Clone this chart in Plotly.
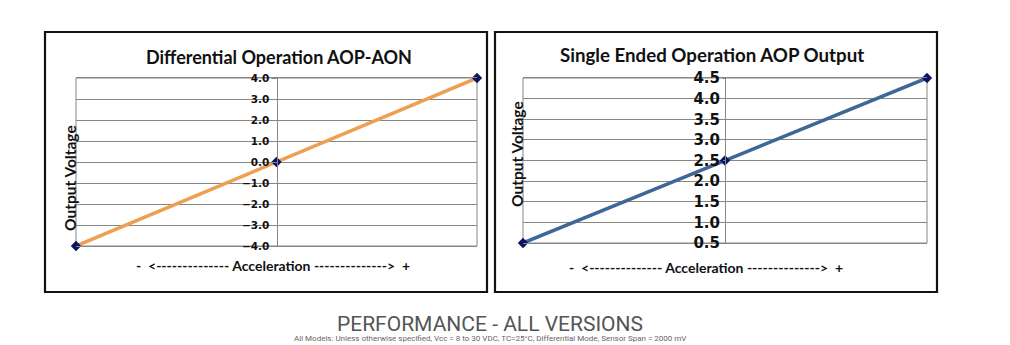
import plotly.graph_objects as go

W, H = 1010, 345

# Data
accel = [-1, 0, 1]
diff_out = [-4.0, 0.0, 4.0]
single_out = [0.5, 2.5, 4.5]
diff_ticks = [-4.0, -3.0, -2.0, -1.0, 0.0, 1.0, 2.0, 3.0, 4.0]
single_ticks = [0.5, 1.0, 1.5, 2.0, 2.5, 3.0, 3.5, 4.0, 4.5]

left_title = "Differential Operation AOP-AON"
right_title = "Single Ended Operation AOP Output"
y_title = "Output Voltage"
x_title = "-  <-------------- Acceleration -------------->  +"

FONT = "Lato, 'Open Sans', sans-serif"
TICKFONT = "'DejaVu Sans', sans-serif"
GRID = "#868686"


def px(x):
    return x / W


def py(y):
    return 1 - y / H


fig = go.Figure()

fig.add_trace(go.Scatter(
    x=accel, y=diff_out, mode="lines+markers", xaxis="x", yaxis="y",
    line=dict(color="#EF9F51", width=3.5),
    marker=dict(symbol="diamond", size=8, color="#0B1460"),
    cliponaxis=False, showlegend=False, hoverinfo="skip"))

fig.add_trace(go.Scatter(
    x=accel, y=single_out, mode="lines+markers", xaxis="x2", yaxis="y2",
    line=dict(color="#3D6796", width=3.5),
    marker=dict(symbol="diamond", size=8, color="#0B1460"),
    cliponaxis=False, showlegend=False, hoverinfo="skip"))

xd1 = [px(76), px(477)]
yd1 = [py(246), py(78)]
xd2 = [px(523), px(927)]
yd2 = [py(243), py(78)]

common_x = dict(range=[-1, 1], showgrid=False, zeroline=False, showticklabels=False,
                ticks="", showline=True, linecolor=GRID, linewidth=1, mirror=True,
                automargin=False, fixedrange=True)

fig.update_layout(
    width=W, height=H, autosize=False,
    margin=dict(l=0, r=0, t=0, b=0, pad=0, autoexpand=False),
    paper_bgcolor="white", plot_bgcolor="white",
    xaxis=dict(domain=xd1, anchor="y", **common_x),
    yaxis=dict(domain=yd1, range=[-4, 4], tickvals=diff_ticks, tickformat=".1f",
               anchor="free", position=(xd1[0] + xd1[1]) / 2, automargin=False,
               showgrid=True, gridcolor=GRID, gridwidth=1, zeroline=False,
               showline=True, linecolor=GRID, linewidth=1,
               ticks="outside", ticklen=5, tickcolor=GRID,
               tickfont=dict(family=TICKFONT, size=10.5, color="#111", weight="bold")),
    xaxis2=dict(domain=xd2, anchor="y2", **common_x),
    yaxis2=dict(domain=yd2, range=[0.5, 4.5], tickvals=single_ticks, tickformat=".1f",
                anchor="free", position=(xd2[0] + xd2[1]) / 2, automargin=False,
                showgrid=True, gridcolor=GRID, gridwidth=1, zeroline=False,
                showline=True, linecolor=GRID, linewidth=1,
                ticks="outside", ticklen=2, tickcolor=GRID,
                tickfont=dict(family=TICKFONT, size=15, color="#111", weight="bold")),
)

# Plot-area side edges
for xr, yr in (("x domain", "y domain"), ("x2 domain", "y2 domain")):
    fig.add_shape(type="rect", xref=xr, yref=yr, x0=0, x1=1, y0=0, y1=1,
                  line=dict(color=GRID, width=1), layer="below")

# Chart frames
for x0, x1 in ((45, 487), (495, 937)):
    fig.add_shape(type="rect", xref="paper", yref="paper",
                  x0=px(x0), x1=px(x1), y0=py(292), y1=py(32),
                  line=dict(color="#111", width=2.2))

ann = []
ann.append(dict(text=left_title, x=px(279), y=py(57), font=dict(size=18, weight="bold")))
ann.append(dict(text=right_title, x=px(712), y=py(55), font=dict(size=18.7, weight="bold")))
ann.append(dict(text=y_title, x=px(70), y=py(178), textangle=-90, font=dict(size=15.5, weight="bold")))
ann.append(dict(text=y_title, x=px(517), y=py(154), textangle=-90, font=dict(size=15.5, weight="bold")))
ann.append(dict(text=x_title, x=px(273), y=py(265), font=dict(size=14, weight="bold")))
ann.append(dict(text=x_title, x=px(706), y=py(267), font=dict(size=14, weight="bold")))
for a in ann:
    a.update(xref="paper", yref="paper", showarrow=False, xanchor="center", yanchor="middle")
    a["font"] = dict(family=FONT, color="#111", **a["font"])
    fig.add_annotation(**a)

# Page heading below the charts
fig.add_annotation(text="PERFORMANCE - ALL VERSIONS", xref="paper", yref="paper",
                   x=px(490), y=py(324), xanchor="center", yanchor="middle", showarrow=False,
                   font=dict(family="Roboto, sans-serif", size=21, color="#555"))
fig.add_annotation(text="All Models: Unless otherwise specified, Vcc = 8 to 30 VDC, TC=25°C, Differential Mode, Sensor Span = 2000 mV",
                   xref="paper", yref="paper", x=px(490), y=0, xanchor="center", yanchor="bottom",
                   showarrow=False, font=dict(family="Roboto, sans-serif", size=8, color="#666"))

fig.write_html("out.html", config={"responsive": False})
